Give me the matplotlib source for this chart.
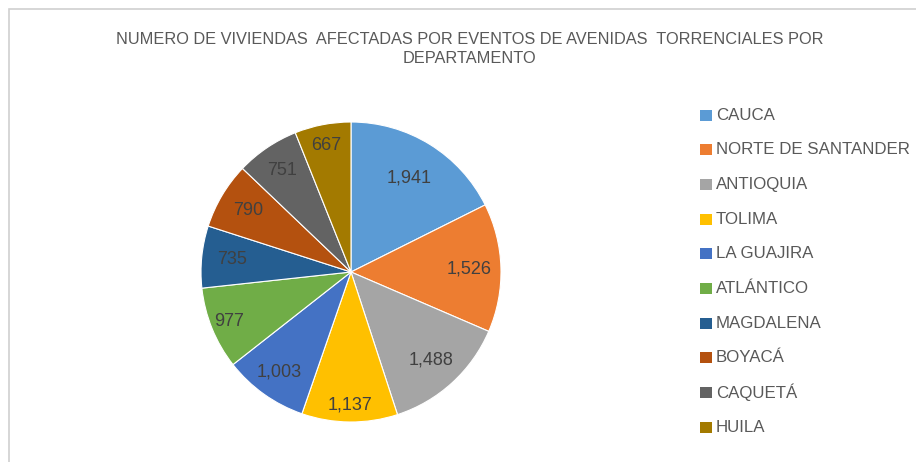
import numpy as np
import matplotlib.pyplot as plt
from matplotlib.patches import Rectangle

departamentos = ["CAUCA", "NORTE DE SANTANDER", "ANTIOQUIA", "TOLIMA", "LA GUAJIRA",
                 "ATLÁNTICO", "MAGDALENA", "BOYACÁ", "CAQUETÁ", "HUILA"]
viviendas = [1941, 1526, 1488, 1137, 1003, 977, 735, 790, 751, 667]
colores = ["#5B9BD5", "#ED7D31", "#A5A5A5", "#FFC000", "#4472C4",
           "#70AD47", "#255E91", "#B4510F", "#636363", "#A37A00"]
# how far out each label sits (fraction of radius)
label_r = [0.74, 0.79, 0.79, 0.89, 0.82, 0.88, 0.80, 0.80, 0.82, 0.86]

plt.rcParams['font.family'] = ['Liberation Sans', 'DejaVu Sans']

fig = plt.figure(figsize=(9.16, 4.62), dpi=100)
fig.patch.set_facecolor("white")

# light frame of the chart area (runs off right/bottom edge)
fig.patches.append(Rectangle((9 / 916, -0.1), 1.2, 1 - 9 / 462 + 0.1,
                             transform=fig.transFigure, fill=False,
                             edgecolor="#D0D0D0", linewidth=1.2))

fig.text(0.513, 1 - 49 / 462, "NUMERO DE VIVIENDAS  AFECTADAS POR EVENTOS DE AVENIDAS  TORRENCIALES POR\nDEPARTAMENTO",
         ha="center", va="center", fontsize=11.8, color="#595959", linespacing=1.3)

# pie: center (351, 272), radius 150 px
ax = fig.add_axes([(351 - 150) / 916, (462 - 272 - 150) / 462, 300 / 916, 300 / 462])
wedges, _ = ax.pie(viviendas, colors=colores, startangle=90, counterclock=False,
                   wedgeprops=dict(edgecolor="white", linewidth=0.8))
ax.set_xlim(-1, 1)
ax.set_ylim(-1, 1)
ax.set_aspect("equal")
ax.axis("off")

for w, v, r in zip(wedges, viviendas, label_r):
    ang = np.deg2rad((w.theta1 + w.theta2) / 2)
    ax.text(r * np.cos(ang), r * np.sin(ang), f"{v:,}", ha="center", va="center",
            fontsize=13, color="#404040")

# legend
lax = fig.add_axes([0, 0, 1, 1])
lax.set_xlim(0, 916)
lax.set_ylim(462, 0)
lax.axis("off")
y0, dy = 115, 34.7
for i, (name, c) in enumerate(zip(departamentos, colores)):
    y = y0 + i * dy
    lax.add_patch(Rectangle((700, y - 5.5), 12, 11, facecolor=c, edgecolor="none"))
    lax.text(716, y, name, ha="left", va="center", fontsize=12.2, color="#595959")

fig.savefig("out.png", dpi=100)
